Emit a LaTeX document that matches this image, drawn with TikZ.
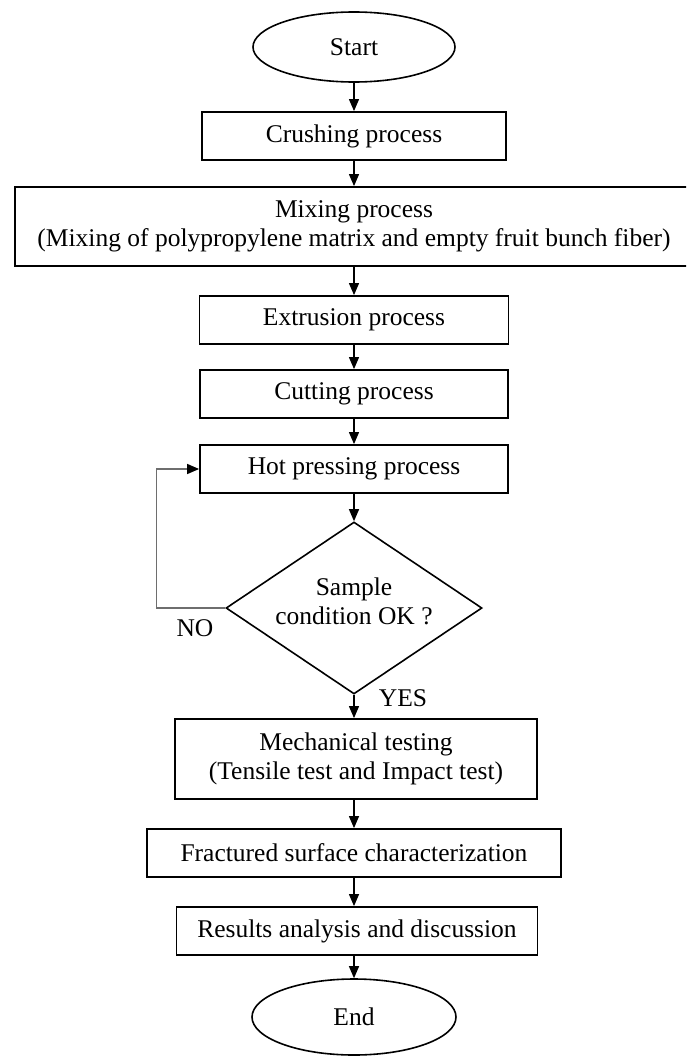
\documentclass[tikz,border=0pt]{standalone}
\usepackage{fontspec}
\setmainfont{Liberation Serif}
\usetikzlibrary{shapes.geometric,arrows.meta}
\tikzset{
  every node/.style={font=\fontsize{25.5}{29}\selectfont},
  procbox/.style={draw=black, line width=1.8pt, rectangle, inner sep=0pt, align=center, minimum height=48pt},
  termbox/.style={draw=black, line width=1.6pt, ellipse, inner sep=0pt},
  decbox/.style={draw=black, line width=1.6pt, diamond, inner sep=0pt},
  flow/.style={line width=1.2pt, -{Triangle[length=12pt,width=10pt]}},
  fb/.style={draw={rgb,255:red,110;green,110;blue,110}, line width=1.4pt, -{Triangle[length=12pt,width=10pt,fill=black,color=black]}},
  lbl/.style={inner sep=0pt}
}
\begin{document}
\begin{tikzpicture}[x=1pt,y=-1pt]
\useasboundingbox (0,0) rectangle (686,1057);
\clip (0,0) rectangle (686,1057);
\node[termbox, minimum width=202pt, minimum height=70pt] (start) at (354,47) {Start};
\node[procbox, minimum width=304pt] (crush) at (354,136) {Crushing process};
\node[procbox, minimum width=678pt, minimum height=79pt] (mix) at (354,226.5) {Mixing process\\(Mixing of polypropylene matrix and empty fruit bunch fiber)};
\node[procbox, minimum width=309pt] (extr) at (354,320) {Extrusion process};
\node[procbox, minimum width=308pt] (cut) at (354,394) {Cutting process};
\node[procbox, minimum width=308pt] (hot) at (354,469) {Hot pressing process};
\node[decbox, minimum width=256pt, minimum height=172pt] (dec) at (354,608) {};
\node[lbl, align=center] (dectext) at (354,601) {Sample\\condition OK ?};
\node[procbox, minimum width=362pt, minimum height=80pt] (mech) at (356,759) {Mechanical testing\\(Tensile test and Impact test)};
\node[procbox, minimum width=414pt] (frac) at (354,853) {Fractured surface characterization};
\node[procbox, minimum width=361pt] (res) at (357,931) {Results analysis and discussion};
\node[termbox, minimum width=204pt, minimum height=76pt] (end) at (354,1017) {End};
\node[lbl] (no) at (195,628) {NO};
\node[lbl] (yes) at (403,698) {YES};
\draw[flow] (start.south) -- (start.south |- crush.north);
\draw[flow] (crush.south) -- (crush.south |- mix.north);
\draw[flow] (mix.south) -- (mix.south |- extr.north);
\draw[flow] (extr.south) -- (extr.south |- cut.north);
\draw[flow] (cut.south) -- (cut.south |- hot.north);
\draw[flow] (hot.south) -- (hot.south |- dec.north);
\draw[flow] (dec.south) -- (dec.south |- mech.north);
\draw[flow] (dec.south |- mech.south) -- (dec.south |- frac.north);
\draw[flow] (frac.south) -- (frac.south |- res.north);
\draw[flow] (frac.south |- res.south) -- (end.north);
\draw[fb] (dec.west) -- ++(-69,0) |- (hot.west);
\end{tikzpicture}
\end{document}
